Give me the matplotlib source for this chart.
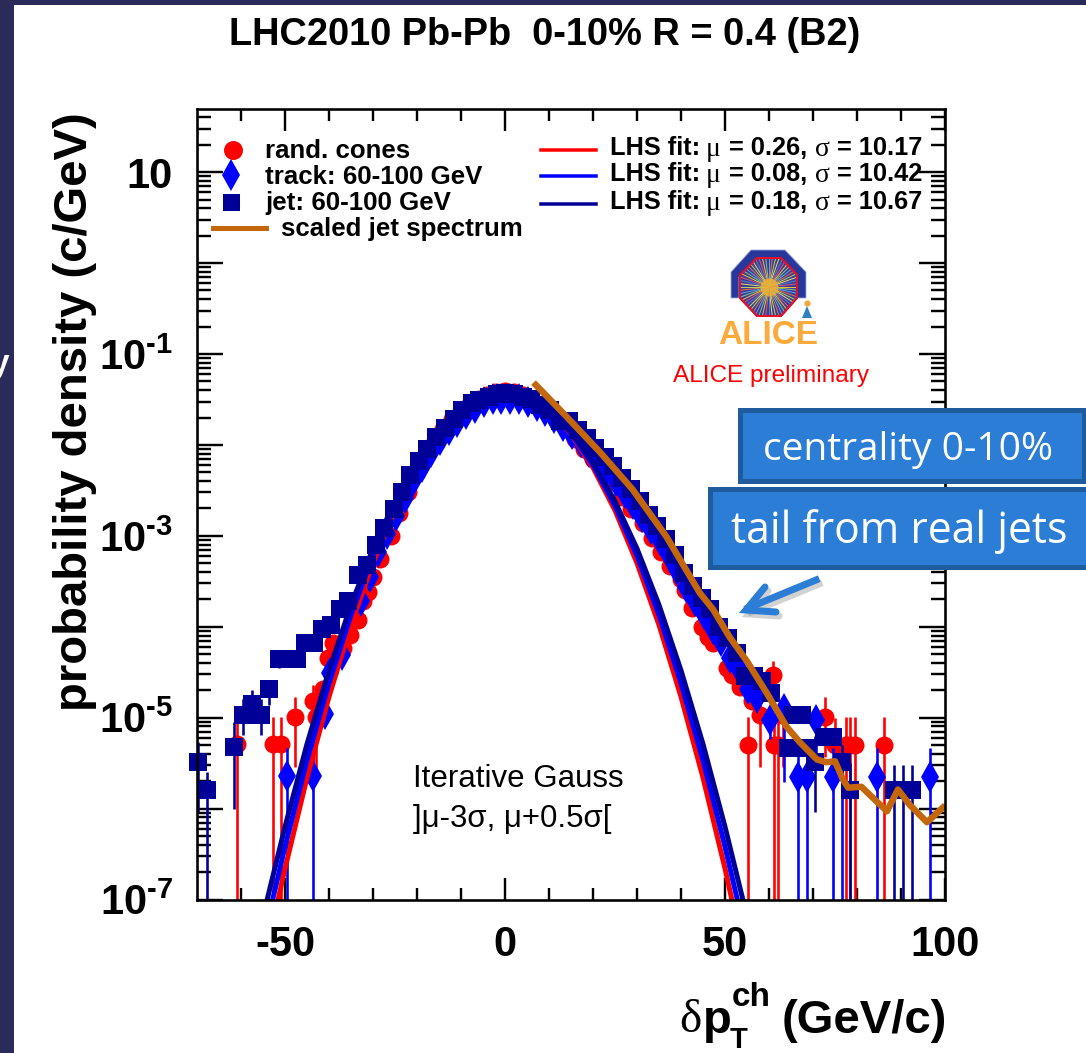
# recreate the ALICE delta pT plot (rand. cones / track / jet embedding)

import numpy as np
import matplotlib
matplotlib.use('Agg')
import matplotlib.pyplot as plt
from matplotlib.lines import Line2D
from matplotlib.patches import Polygon, Rectangle
from matplotlib.ticker import FixedLocator, NullFormatter

plt.rcParams['font.family'] = ['Liberation Sans', 'DejaVu Sans']
plt.rcParams['mathtext.fontset'] = 'custom'
plt.rcParams['mathtext.bf'] = 'Liberation Sans:bold'
plt.rcParams['mathtext.rm'] = 'Liberation Sans:bold'

W, H = 1086, 1053

# all y values below are log10(probability density)
fit_x = [-54, -50, -45, -40, -35, -30, -25, -20, -15, -10, -5, 0, 5, 10, 15, 20, 25, 30, 35, 40, 45, 50, 54]
fit_red = [-7.53, -6.66, -5.66, -4.77, -3.98, -3.30, -2.72, -2.25, -1.88, -1.62, -1.46, -1.41,
           -1.46, -1.62, -1.88, -2.25, -2.72, -3.30, -3.98, -4.77, -5.66, -6.66, -7.53]
fit_blue = [-7.25, -6.42, -5.47, -4.62, -3.87, -3.22, -2.67, -2.22, -1.87, -1.62, -1.47, -1.42,
            -1.47, -1.62, -1.87, -2.22, -2.67, -3.22, -3.87, -4.62, -5.47, -6.42, -7.25]
fit_navy = [-6.99, -6.20, -5.29, -4.48, -3.76, -3.14, -2.62, -2.19, -1.86, -1.62, -1.48, -1.43,
            -1.48, -1.62, -1.86, -2.19, -2.62, -3.14, -3.76, -4.48, -5.29, -6.20, -6.99]

cones_x = [-61, -52.8, -51, -47.8, -43.6, -43, -41.4, -40.2, -39, -36.8, -35.2, -33.4, -32.3, -31.1, -30, -28.4,
           -26, -24, -22, -20, -18, -16, -14, -12, -10, -8, -6, -4, -2, 0, 2, 4, 6, 8, 10, 12, 14, 16, 18, 20,
           22, 24, 26.6, 28.6, 31.4, 33.4, 35.5, 37.5, 40, 41, 42.5, 44.8, 46.2, 47.3, 50.4, 51.6, 53.4, 55.2,
           56.1, 58, 60.9, 61.1, 62, 63.2, 72.7, 75, 77.5, 78.4, 79.5, 86.2]
cones_y = [-5.29, -5.29, -5.29, -4.99, -4.82, -4.99, -4.69, -4.34, -4.18, -4.23, -4.09, -3.93, -3.72, -3.62, -3.45, -3.26,
           -3.00, -2.75, -2.52, -2.30, -2.12, -1.96, -1.83, -1.72, -1.63, -1.55, -1.49, -1.45, -1.42, -1.41, -1.42,
           -1.45, -1.50, -1.56, -1.64, -1.74, -1.83, -1.93, -2.05, -2.16, -2.27, -2.41, -2.57, -2.71, -2.86, -3.02,
           -3.18, -3.33, -3.48, -3.60, -3.79, -4.00, -4.11, -4.18, -4.45, -4.53, -4.66, -5.30, -4.82, -4.97, -4.53,
           -5.30, -5.30, -4.97, -4.99, -5.30, -5.30, -5.30, -5.30, -5.30]
cones_err_x = [-61, -52.8, -51, -47.8, -43.6, -43, 55.2, 58, 60.9, 61.1, 62, 63.2, 72.7, 75, 77.5, 78.4, 79.5, 86.2]
cones_err_hi = [-5.05, -4.99, -4.99, -4.77, -4.64, -4.80, -4.99, -4.70, -4.38, -5.00, -5.00, -4.77, -4.77, -5.00, -4.99, -4.99, -4.99, -4.99]
cones_err_lo = [-8, -8, -8, -5.54, -5.10, -5.60, -8, -5.54, -4.80, -8, -8, -5.54, -5.43, -5.45, -8, -8, -8, -8]

track_x = [-49.5, -43.6, -40.9, -39.8, -37, -32.7, -30.7, -28.8, -26.8, -24.8, -22.8, -20.8, -18.8, -16.8, -14.8, -12.8,
           -10.8, -8.8, -6.8, -4.8, -2.8, -0.8, 1.2, 3.2, 5.2, 7.2, 9.2, 11.2, 13.2, 15.2, 17.2, 19.2, 21.2, 23.2,
           25.2, 27.2, 29.2, 31.2, 33.2, 35.2, 37.2, 39.2, 41.2, 43.2, 45.2, 47.2, 49.2, 51.2, 53.2, 55.2, 57.2,
           60.2, 63.5, 66.6, 68.6, 70.7, 74.5, 84.5, 96.6]
track_y = [-5.64, -5.64, -4.96, -4.51, -4.31, -3.72, -3.45, -3.18, -2.98, -2.78, -2.58, -2.40, -2.24, -2.08, -1.95, -1.84,
           -1.75, -1.66, -1.59, -1.53, -1.50, -1.49, -1.49, -1.50, -1.53, -1.57, -1.63, -1.70, -1.79, -1.88, -1.97, -2.08,
           -2.17, -2.27, -2.40, -2.53, -2.65, -2.79, -2.92, -3.05, -3.21, -3.38, -3.56, -3.72, -3.86, -4.02, -4.16, -4.34,
           -4.46, -4.69, -4.78, -5.03, -4.90, -5.65, -5.65, -5.03, -5.65, -5.65, -5.65]
track_err_x = [-49.5, -43.6, 60.2, 63.5, 66.6, 68.6, 70.7, 74.5, 76.5, 84.5, 96.6]
track_err_hi = [-5.33, -5.33, -4.88, -4.78, -5.33, -5.33, -4.88, -5.33, -5.50, -5.33, -5.33]
track_err_lo = [-8, -8, -5.24, -5.71, -8, -8, -5.40, -8, -8, -8, -8]

jet_x = [-69.8, -67.8, -61.6, -59.5, -57.5, -55.5, -53.6, -51.4, -49.3, -47.3, -45.5, -43.5, -41.6, -39.5, -37.5, -35.7,
         -33.4, -31.4, -29.3, -27.5, -25.2, -23.4, -21.6, -19.6, -17.7, -15.6, -13.7, -11.5, -9.7, -7.6, -5.8, -3.75,
         -1.9, 0, 2, 4, 6, 8, 10.2, 12.5, 14.5, 16.6, 18.6, 20.5, 22.7, 24.5, 26.6, 28.6, 30.7, 32.7, 34.5, 36.6,
         38.6, 40.7, 42.7, 44.8, 46.6, 48.6, 50.6, 52.7, 54.5, 56.5, 58.5, 60.5, 64.3, 65.5, 66.3, 67.5, 68.6, 70.5, 72.5,
         74.5, 76.6, 78.4, 88.4, 90.4, 92.5]
jet_y = [-5.49, -5.80, -5.32, -4.97, -4.85, -4.97, -4.69, -4.36, -4.35, -4.35, -4.18, -4.18, -4.03, -3.98, -3.81, -3.72,
         -3.43, -3.32, -3.10, -2.91, -2.70, -2.52, -2.33, -2.18, -2.04, -1.91, -1.81, -1.72, -1.62, -1.54, -1.505, -1.47,
         -1.44, -1.43, -1.44, -1.47, -1.50, -1.56, -1.62, -1.74, -1.74, -1.84, -1.92, -2.03, -2.13, -2.23, -2.36, -2.49,
         -2.62, -2.77, -2.89, -3.04, -3.21, -3.41, -3.55, -3.68, -3.81, -4.00, -4.12, -4.29, -4.54, -4.54, -4.60, -4.73,
         -5.33, -4.97, -5.33, -4.97, -5.33, -5.49, -5.21, -5.21, -5.49, -5.80, -5.80, -5.80, -5.80]
jet_err_x = [-69.8, -67.8, -61.6, -59.5, -57.5, -55.5, -53.6, -51.4, 70.5, 76.6, 78.4, 88.4, 90.4, 92.5]
jet_err_hi = [-5.27, -5.60, -5.05, -4.80, -4.70, -4.80, -4.60, -4.30, -5.20, -5.30, -5.50, -5.52, -5.52, -5.52]
jet_err_lo = [-6.04, -8, -6.00, -5.19, -5.00, -5.19, -4.86, -4.45, -6.04, -5.80, -8, -8, -8, -8]

scaled_x = [7, 14, 21.6, 29, 36.7, 44.3, 47.3, 51, 55, 59.5, 64, 67, 70.9, 73, 75, 76.8, 78, 81, 86.8, 89.3, 92, 95.9, 99.5]
scaled_y = [-1.34, -1.69, -2.08, -2.49, -3.01, -3.63, -3.81, -4.11, -4.38, -4.73, -5.10, -5.27, -5.46, -5.49, -5.48,
            -5.68, -5.77, -5.76, -6.03, -5.79, -5.96, -6.15, -5.99]

fit_mu = ['0.26', '0.08', '0.18']
fit_sigma = ['10.17', '10.42', '10.67']
legend_left = ['rand. cones', 'track: 60-100 GeV', 'jet: 60-100 GeV', 'scaled jet spectrum']

x_major = [-50, 0, 50, 100]
x_minor = [-60, -40, -30, -20, -10, 10, 20, 30, 40, 60, 70, 80, 90]
y_decades = [-7, -6, -5, -4, -3, -2, -1, 0, 1]
y_labels = {1: '10',
            -1: r'$\mathbf{10^{\text{-}1}}$',
            -3: r'$\mathbf{10^{\text{-}3}}$',
            -5: r'$\mathbf{10^{\text{-}5}}$',
            -7: r'$\mathbf{10^{\text{-}7}}$'}

RED = '#ff0000'
BLUE = '#0000ff'
NAVY = '#000099'
ORANGE = '#c4660a'
BOX = '#2b7dd6'
BOX_EDGE = '#1e5c9e'
BG = '#2a2b58'


def fx(x):
    return x / W


def fy(y):
    return 1 - y / H


def pw(px):
    # pixels to points at dpi 100
    return px * 0.72


def ftext(x, y, s, **kw):
    kw.setdefault('va', 'center')
    kw.setdefault('ha', 'left')
    kw.setdefault('color', 'black')
    return fig.text(fx(x), fy(y), s, **kw)


def fline(xs, ys, **kw):
    l = Line2D([fx(v) for v in xs], [fy(v) for v in ys], transform=fig.transFigure, **kw)
    fig.add_artist(l)
    return l


def fpoly(pts, **kw):
    p = Polygon([(fx(a), fy(b)) for a, b in pts], transform=fig.transFigure, **kw)
    fig.add_artist(p)
    return p


fig = plt.figure(figsize=(W / 100, H / 100), dpi=100, facecolor=BG)

# white slide panel
fig.add_artist(Rectangle((fx(14), 0), 1 - fx(14), fy(5), transform=fig.transFigure,
                         facecolor='white', edgecolor='none', zorder=-5))
# bit of cut off slide text on the far left
ftext(-9, 364, 'y', color='white', fontsize=24, fontweight='bold', zorder=-4)

ax = fig.add_axes([fx(197), fy(899.5), fx(945 - 197), fy(109) - fy(899.5)])
ax.set_facecolor('white')
ax.set_xlim(-70, 100)
ax.set_ylim(1e-7, 10 ** 1.695)
ax.set_yscale('log')


def draw_points(x, y, ex, hi, lo, color, marker, ms, z):
    ax.vlines(ex, 10.0 ** np.array(lo), 10.0 ** np.array(hi), color=color, lw=pw(2.6), zorder=z)
    ax.plot(x, 10.0 ** np.array(y), ls='none', marker=marker, color=color, ms=ms, mew=0, zorder=z, clip_on=False)


draw_points(cones_x, cones_y, cones_err_x, cones_err_hi, cones_err_lo, RED, 'o', pw(18), 3)
draw_points(track_x, track_y, track_err_x, track_err_hi, track_err_lo, BLUE, 'd', pw(22), 4)
draw_points(jet_x, jet_y, jet_err_x, jet_err_hi, jet_err_lo, NAVY, 's', pw(18), 5)

ax.plot(fit_x, 10.0 ** np.array(fit_red), color=RED, lw=pw(5), zorder=4.5)
ax.plot(fit_x, 10.0 ** np.array(fit_blue), color=BLUE, lw=pw(5), zorder=4.5)
ax.plot(fit_x, 10.0 ** np.array(fit_navy), color=NAVY, lw=pw(5), zorder=4.5)
ax.plot(scaled_x, 10.0 ** np.array(scaled_y), color=ORANGE, lw=pw(6.5), zorder=7, solid_joinstyle='round')

# ROOT style ticks
for side in ax.spines.values():
    side.set_linewidth(pw(2.6))
    side.set_zorder(8)
ax.xaxis.set_major_locator(FixedLocator(x_major))
ax.xaxis.set_minor_locator(FixedLocator(x_minor))
ax.xaxis.set_minor_formatter(NullFormatter())
ax.set_xticklabels([str(v) for v in x_major])
ax.yaxis.set_major_locator(FixedLocator([10.0 ** d for d in y_decades]))
ax.yaxis.set_minor_locator(FixedLocator([m * 10.0 ** d for d in y_decades for m in range(2, 10)]))
ax.yaxis.set_minor_formatter(NullFormatter())
ax.set_yticklabels([y_labels.get(d, '') for d in y_decades])
ax.tick_params(axis='x', which='major', direction='in', length=pw(22), width=pw(2.4), top=True, pad=pw(26))
ax.tick_params(axis='x', which='minor', direction='in', length=pw(12), width=pw(2.4), top=True)
ax.tick_params(axis='y', which='major', direction='in', length=pw(26), width=pw(2.4), right=True, pad=pw(24))
ax.tick_params(axis='y', which='minor', direction='in', length=pw(14), width=pw(2.4), right=True)
for t in ax.get_xticklabels() + ax.get_yticklabels():
    t.set_fontsize(30)
    t.set_fontweight('bold')

# title and axis titles
ftext(545, 35, 'LHC2010 Pb-Pb  0-10% R = 0.4 (B2)', ha='center', fontsize=27.4, fontweight='bold')
ftext(75, 412, 'probability density (c/GeV)', rotation=90, ha='center', fontsize=34, fontweight='bold')
ftext(679, 1021, 'δ', fontsize=34, family='Liberation Serif')
ftext(703, 1021, 'p', fontsize=34, fontweight='bold')
ftext(732, 998, 'ch', fontsize=24, fontweight='bold')
ftext(730, 1040, 'T', fontsize=21, fontweight='bold')
ftext(782, 1021, '(GeV/c)', fontsize=34, fontweight='bold')

# legend, left column
fline([233], [150], marker='o', color=RED, ms=pw(19), mew=0, ls='none')
fline([231], [175], marker='d', color=BLUE, ms=pw(22), mew=0, ls='none')
fline([231], [202], marker='s', color=NAVY, ms=pw(17), mew=0, ls='none')
fline([213, 266], [228, 228], color=ORANGE, lw=pw(5))
for lab, xp, yp in zip(legend_left, [265, 265, 265, 281], [151, 177, 203, 229]):
    ftext(xp, yp, lab, fontsize=18.6, fontweight='bold')

# legend, right column
for mu, sig, col, yp in zip(fit_mu, fit_sigma, [RED, BLUE, NAVY], [148, 174, 202]):
    fline([541, 596], [yp + 2, yp + 2], color=col, lw=pw(3.5))
    ftext(610, yp, 'LHS fit:', fontsize=18.3, fontweight='bold')
    ftext(706, yp + 2, 'μ', fontsize=20, family='Liberation Serif')
    ftext(729, yp, '= ' + mu + ',', fontsize=18.3, fontweight='bold')
    ftext(815, yp + 2, 'σ', fontsize=20, family='Liberation Serif')
    ftext(837, yp, '= ' + sig, fontsize=18.3, fontweight='bold')

# ALICE logo
cx, cy = 769, 287
outer = [(731, 298), (731, 272), (751, 250), (785, 250), (806, 272), (806, 298), (797, 298), (797, 277),
         (780, 258), (757, 258), (739, 277), (739, 298)]
octagon = [(757, 258), (781, 258), (797, 275), (797, 298), (781, 316), (757, 316), (740, 298), (740, 275)]
fpoly(outer, facecolor='#27389a', edgecolor='#9aa6dd', lw=0.6, zorder=3)
oct_patch = fpoly(octagon, facecolor='#3c3a9a', edgecolor='#e0102a', lw=pw(2), zorder=3)
ray_colors = ['#f4c430', '#7fc97f', '#5da5da', '#e8743b', '#b6d957', '#f2dc5d', '#4f86c6', '#e05a6d']
for i, ang in enumerate(np.linspace(0, 2 * np.pi, 56, endpoint=False)):
    r = fline([cx, cx + 32 * np.cos(ang)], [cy, cy + 32 * np.sin(ang)],
              color=ray_colors[i % len(ray_colors)], lw=0.7, zorder=3.1)
    r.set_clip_path(oct_patch)
fline([cx], [cy], marker='o', ms=13, color='#f0b030', mew=0, alpha=0.8, zorder=3.2)
fpoly(octagon, facecolor='none', edgecolor='#e0102a', lw=pw(2), zorder=3.3)
fpoly([(807, 306), (802, 318), (812, 318)], facecolor='#2f7fc1', edgecolor='none', zorder=3.4)
fline([807], [303], marker='o', ms=4.5, color='#f2a93b', mew=0, zorder=3.4)
ftext(768, 335, 'ALICE', ha='center', fontsize=24, fontweight='bold', color='#fbab3c', zorder=3.3)
ftext(771, 376, 'ALICE preliminary', ha='center', fontsize=17.6, color=RED)

# fit range note
ftext(413, 779, 'Iterative Gauss', fontsize=22.5)
ftext(413, 819, ']μ-3σ, μ+0.5σ[', fontsize=22.5)

# slide call-outs
for x0, y0, x1, y1 in [(740, 410, 1084, 481), (710, 489, 1095, 567)]:
    fig.add_artist(Rectangle((fx(x0), fy(y1)), fx(x1 - x0), fy(y0) - fy(y1), transform=fig.transFigure,
                             facecolor=BOX, edgecolor=BOX_EDGE, lw=pw(5), zorder=5))
ftext(908, 450, 'centrality 0-10%', ha='center', fontsize=28, color='white', family='Open Sans', zorder=6)
ftext(899, 532, 'tail from real jets', ha='center', fontsize=30.7, color='white', family='Open Sans', zorder=6)

# arrow with a soft shadow
for dx, dy, col, a in [(3, 4, '#808080', 0.35), (0, 0, BOX, 1)]:
    fline(np.array([816, 748]) + dx, np.array([580, 608]) + dy, color=col, alpha=a, lw=pw(7), zorder=5)
    fline(np.array([765, 746, 776]) + dx, np.array([587, 610, 612]) + dy, color=col, alpha=a, lw=pw(7),
          solid_capstyle='round', solid_joinstyle='miter', zorder=5)

fig.savefig('out.png', dpi=100, facecolor=BG)
